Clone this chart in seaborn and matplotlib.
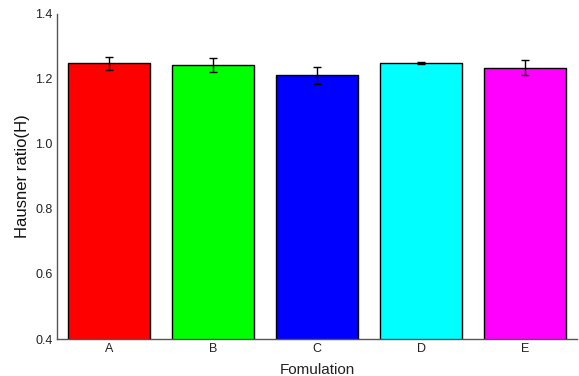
import matplotlib
matplotlib.use("Agg")
import matplotlib.pyplot as plt
import seaborn as sns
import pandas as pd

categories = ["A", "B", "C", "D", "E"]
values = [1.249, 1.243, 1.212, 1.249, 1.234]
errors = [0.020, 0.023, 0.026, 0.003, 0.023]
colors = ["#ff0000", "#00ff00", "#0000ff", "#00ffff", "#ff00ff"]
yticks = [0.4, 0.6, 0.8, 1.0, 1.2, 1.4]

sns.set_style("white")
plt.rcParams["font.family"] = ["Liberation Sans", "DejaVu Sans"]

df = pd.DataFrame({"Fomulation": categories, "H": values})

fig = plt.figure(figsize=(5.79, 3.76), dpi=100)
ax = fig.add_axes([57/579, 37/376, 520/579, 325/376])
sns.barplot(data=df, x="Fomulation", y="H", hue="Fomulation", palette=colors,
            saturation=1, legend=False, width=0.79, edgecolor="black",
            linewidth=1.0, ax=ax, errorbar=None)
ax.errorbar(range(len(categories)), values, yerr=errors, fmt="none",
            ecolor="black", elinewidth=1.0, capsize=3, capthick=1.0)
ax.set_ylim(0.4, 1.4)
ax.set_xlim(-0.5, 4.5)
ax.set_yticks(yticks)
ax.set_yticklabels([f"{t:.1f}" for t in yticks])
ax.tick_params(axis="both", length=0, labelsize=9, colors="#222222", pad=3)
ax.set_ylabel("Hausner ratio(H)", fontsize=12, color="#111111")
ax.set_xlabel("Fomulation", fontsize=11, labelpad=6, color="#222222")
for s in ["top", "right"]:
    ax.spines[s].set_visible(False)
for s in ["left", "bottom"]:
    ax.spines[s].set_color("#555555")
    ax.spines[s].set_linewidth(1.0)
fig.savefig("out.png", dpi=100)
